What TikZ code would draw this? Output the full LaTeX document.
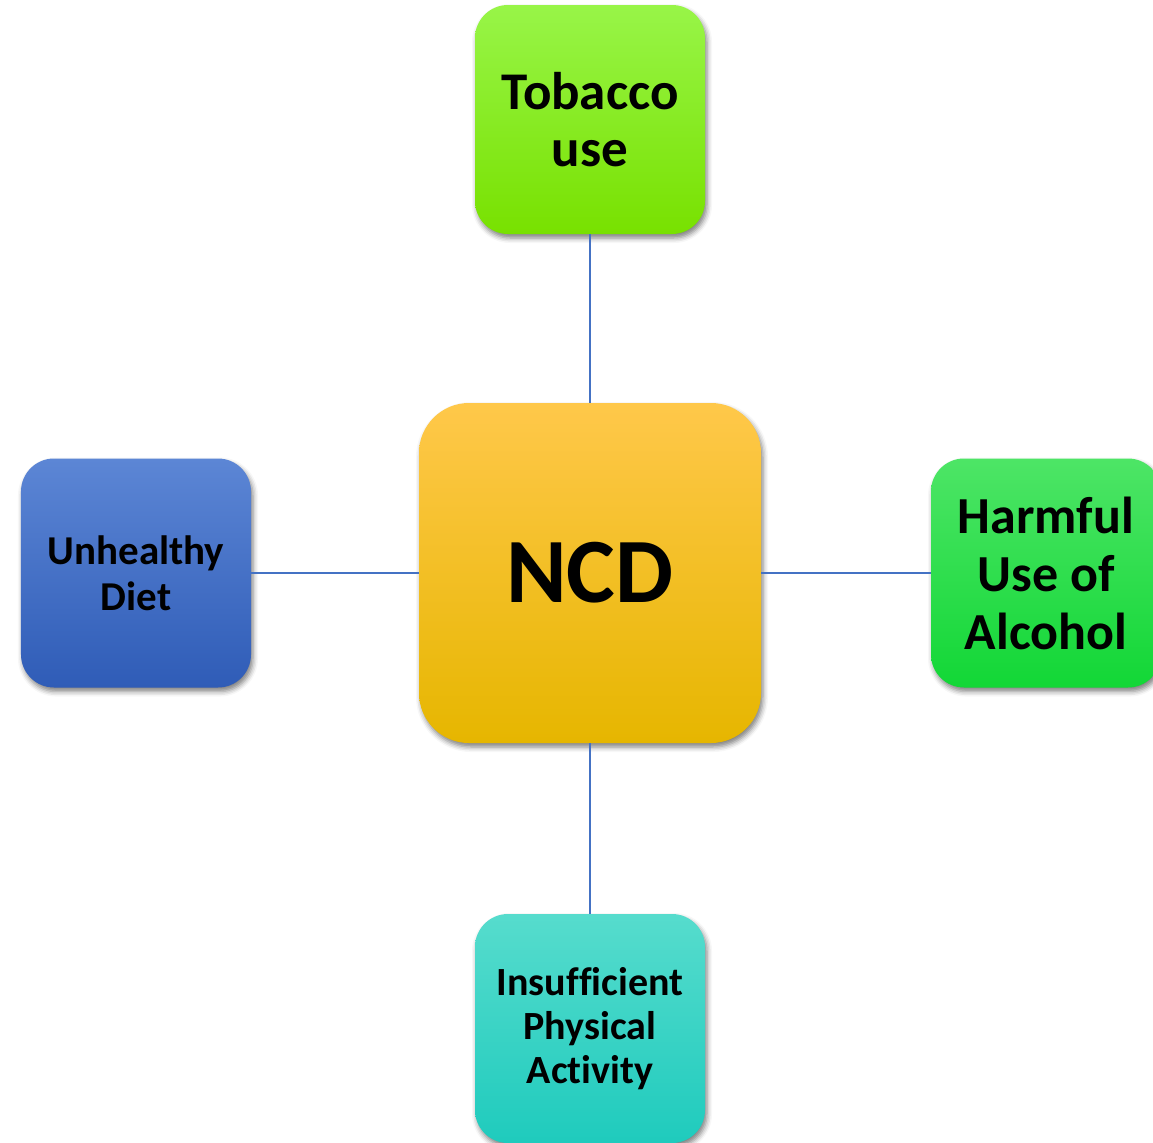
\documentclass[tikz,border=0pt]{standalone}
\usepackage{fontspec}
\setmainfont[Ligatures=NoCommon]{Carlito}
\usetikzlibrary{shadows.blur}
\definecolor{lineblue}{HTML}{4472C4}
\definecolor{tobT}{HTML}{98F548}
\definecolor{tobM}{HTML}{86F005}
\definecolor{tobB}{HTML}{78E100}
\definecolor{ncdT}{HTML}{FFC84A}
\definecolor{ncdM}{HTML}{FDC500}
\definecolor{ncdB}{HTML}{E6B600}
\definecolor{dietT}{HTML}{5C86D5}
\definecolor{dietM}{HTML}{3B6BC8}
\definecolor{dietB}{HTML}{2F5CB7}
\definecolor{alcT}{HTML}{4DE566}
\definecolor{alcM}{HTML}{22E041}
\definecolor{alcB}{HTML}{12D736}
\definecolor{actT}{HTML}{56DCCD}
\definecolor{actM}{HTML}{2ED8C9}
\definecolor{actB}{HTML}{1FCBBD}
\begin{document}
\begin{tikzpicture}[x=1bp,y=-1bp,
  box/.style={rectangle, rounded corners=33bp, inner sep=0pt, align=center,
    minimum width=230bp, minimum height=229bp,
    blur shadow={shadow xshift=2bp, shadow yshift=-4bp, shadow blur radius=5bp, shadow opacity=50}},
  link/.style={draw=lineblue, line width=2bp}]
\useasboundingbox (0,0) rectangle (1153,1143);
\node[box, top color=tobT, middle color=tobM, bottom color=tobB,
  font={\bfseries\fontsize{53bp}{57bp}\selectfont}] (tob) at (590,119.5) {Tobacco\\use};
\node[box, rounded corners=50bp, minimum width=342bp, minimum height=340bp,
  top color=ncdT, middle color=ncdM, bottom color=ncdB,
  font={\bfseries\fontsize{92bp}{100bp}\selectfont}] (ncd) at (590,573) {NCD};
\node[box, top color=dietT, middle color=dietM, bottom color=dietB,
  font={\bfseries\fontsize{41bp}{46bp}\selectfont}] (diet) at (136,573) {Unhealthy\\Diet};
\node[box, top color=alcT, middle color=alcM, bottom color=alcB,
  font={\bfseries\fontsize{52bp}{58bp}\selectfont}] (alc) at (1046,573) {Harmful\\Use of\\Alcohol};
\node[box, top color=actT, middle color=actM, bottom color=actB,
  font={\bfseries\fontsize{40bp}{44bp}\selectfont}] (act) at (590,1028.5) {Insufficient\\Physical\\Activity};
\draw[link] (tob) -- (ncd);
\draw[link] (ncd) -- (diet);
\draw[link] (ncd) -- (alc);
\draw[link] (ncd) -- (act);
\end{tikzpicture}
\end{document}
